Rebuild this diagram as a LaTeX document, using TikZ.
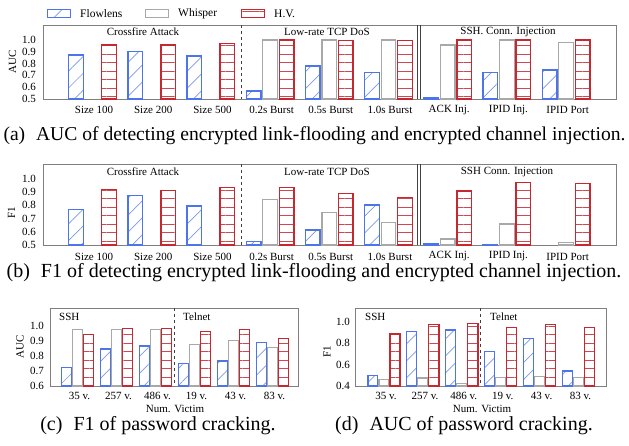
\documentclass[tikz,border=0pt]{standalone}
\usepackage{fontspec}
\setmainfont{Liberation Serif}
\usetikzlibrary{patterns.meta}
\definecolor{flblue}{HTML}{4D74E8}
\definecolor{wsgray}{HTML}{A8A8A8}
\definecolor{hvred}{HTML}{C62830}
\definecolor{boxgray}{HTML}{7F7F7F}

\begin{document}
\begin{tikzpicture}[x=1pt,y=-1pt,
  tick/.style={font=\fontsize{11}{12}\selectfont,inner sep=0pt},
  lgd/.style={font=\fontsize{11.5}{12}\selectfont,inner sep=0pt,anchor=west},
  capt/.style={font=\fontsize{20}{22}\selectfont,inner sep=0pt},
  panel/.style={draw=boxgray,line width=0.9pt},
  split/.style={draw=black!75,line width=0.6pt,dashed},
  fl/.style={draw=flblue,line width=1.3pt,pattern={Lines[angle=45,distance=12pt,line width=0.7pt]},pattern color=flblue!75},
  ws/.style={draw=wsgray,line width=1.3pt},
  hv/.style={draw=hvred,line width=1.3pt,pattern={Lines[angle=0,distance=8.5pt,line width=0.8pt]},pattern color=hvred!85}]
\useasboundingbox (0,0) rectangle (629,445);

% legend
\draw[fl] (47.5,9.5) rectangle (70.5,17.5);
\node[lgd] (lg-fl) at (80,13.5) {Flowlens};
\draw[ws] (145.5,9.5) rectangle (168.5,17.5);
\node[lgd] (lg-ws) at (178,13.5) {Whisper};
\draw[hv] (241.5,9.5) rectangle (264.5,17.5);
\node[lgd] (lg-hv) at (274,13.5) {H.V.};

% panel (a)
\draw[panel] (43,25) rectangle (616,99);
\draw[split] (241,25) -- (241,99);
\draw[black!75,line width=0.7pt] (417.3,25) -- (417.3,99) (420.7,25) -- (420.7,99);
\foreach \v [count=\i] in {0.5,0.6,0.7,0.8,0.9,1.0}
  \node[tick,anchor=east] (a-y\i) at (36,{99-(\v-0.5)*118}) {\v};
\node[tick,rotate=90] (a-lab) at (12.5,62) {AUC};
\node[tick] (a-s1) at (143,32) {Crossfire Attack};
\node[tick] (a-s2) at (327,32) {Low-rate TCP DoS};
\node[tick] (a-s3) at (508,32) {SSH. Conn. Injection};
\foreach \g/\v in {0/0.873,1/0.90,2/0.864,3/0.568,4/0.78,5/0.723,6/0.514,7/0.726,8/0.746}
  \draw[fl] ({68.7+59.2*\g},99) rectangle ({83.3+59.2*\g},{99-(\v-0.5)*118});
\foreach \g/\v in {3/1.0,4/1.0,5/1.0,6/0.958,7/1.0,8/0.98}
  \draw[ws] ({85.2+59.2*\g},99) rectangle ({99.8+59.2*\g},{99-(\v-0.5)*118});
\foreach \g/\v in {0/0.958,1/0.957,2/0.969,3/1.0,4/0.995,5/0.995,6/1.0,7/1.0,8/1.0}
  \draw[hv] ({101.7+59.2*\g},99) rectangle ({116.3+59.2*\g},{99-(\v-0.5)*118});
\foreach \t [count=\g from 0] in {Size 100,Size 200,Size 500,0.2s Burst,0.5s Burst,1.0s Burst,ACK Inj.,IPID Inj.,IPID Port}
  \node[tick] (a-x\g) at ({94+59.2*\g},110) {\t};
\node[capt,font=\fontsize{19.6}{22}\selectfont] (a-cap) at (314.5,136) {(a)\hspace{0.3em} AUC of detecting encrypted link-flooding and encrypted channel injection.};

% panel (b)
\draw[panel] (43,164) rectangle (616,245);
\draw[split] (241,164) -- (241,245);
\draw[black!75,line width=0.7pt] (417.3,164) -- (417.3,245) (420.7,164) -- (420.7,245);
\foreach \v [count=\i] in {0.5,0.6,0.7,0.8,0.9,1.0}
  \node[tick,anchor=east] (b-y\i) at (36,{245-(\v-0.5)*132}) {\v};
\node[tick,rotate=90] (b-lab) at (11.5,213) {F1};
\node[tick] (b-s1) at (143,172) {Crossfire Attack};
\node[tick] (b-s2) at (327,172) {Low-rate TCP DoS};
\node[tick] (b-s3) at (507,172) {SSH Conn. Injection};
\foreach \g/\v in {0/0.770,1/0.877,2/0.795,3/0.525,4/0.614,5/0.803,6/0.513,7/0.503}
  \draw[fl] ({68.7+59.2*\g},245) rectangle ({83.3+59.2*\g},{245-(\v-0.5)*132});
\foreach \g/\v in {3/0.846,4/0.745,5/0.669,6/0.545,7/0.659,8/0.517}
  \draw[ws] ({85.2+59.2*\g},245) rectangle ({99.8+59.2*\g},{245-(\v-0.5)*132});
\foreach \g/\v in {0/0.922,1/0.914,2/0.937,3/0.937,4/0.892,5/0.858,6/0.909,7/0.975,8/0.967}
  \draw[hv] ({101.7+59.2*\g},245) rectangle ({116.3+59.2*\g},{245-(\v-0.5)*132});
\foreach \t [count=\g from 0] in {Size 100,Size 200,Size 500,0.2s Burst,0.5s Burst,1.0s Burst,ACK Inj.,IPID Inj.,IPID Port}
  \node[tick] (b-x\g) at ({94+59.2*\g},256.5) {\t};
\node[capt] (b-cap) at (314,273) {(b)\hspace{0.3em} F1 of detecting encrypted link-flooding and encrypted channel injection.};

% panel (c)
\draw[panel] (50,308) rectangle (298,386);
\draw[split] (174.3,308) -- (174.3,386);
\foreach \v [count=\i] in {0.6,0.7,0.8,0.9,1.0}
  \node[tick,anchor=east] (c-y\i) at (44,{386-(\v-0.6)*150}) {\v};
\node[tick,rotate=90] (c-lab) at (20,347) {AUC};
\node[tick,anchor=west] (c-s1) at (59,317) {SSH};
\node[tick,anchor=west] (c-s2) at (183,317) {Telnet};
\foreach \g/\v in {0/0.725,1/0.847,2/0.867,3/0.751,4/0.767,5/0.891}
  \draw[fl] ({61.6+39*\g},386) rectangle ({71.4+39*\g},{386-(\v-0.6)*150});
\foreach \g/\v in {0/0.978,1/0.978,2/0.978,3/0.878,4/0.902,5/0.855}
  \draw[ws] ({72.6+39*\g},386) rectangle ({82.4+39*\g},{386-(\v-0.6)*150});
\foreach \g/\v in {0/0.945,1/0.982,2/0.985,3/0.962,4/0.978,5/0.915}
  \draw[hv] ({83.6+39*\g},386) rectangle ({93.8+39*\g},{386-(\v-0.6)*150});
\foreach \t [count=\g from 0] in {35 v.,257 v.,486 v.,19 v.,43 v.,83 v.}
  \node[tick] (c-x\g) at ({79.5+39*\g},396) {\t};
\node[tick] (c-num) at (175,409) {Num. Victim};
\node[capt] (c-cap) at (158,426) {(c)\hspace{0.3em} F1 of password cracking.};

% panel (d)
\draw[panel] (355,308) rectangle (606,386);
\draw[split] (480.7,308) -- (480.7,386);
\foreach \v [count=\i] in {0.4,0.6,0.8,1.0}
  \node[tick,anchor=east] (d-y\i) at (350,{386-(\v-0.4)*106.7}) {\v};
\node[tick,rotate=90] (d-lab) at (327,351.5) {F1};
\node[tick,anchor=west] (d-s1) at (365,317) {SSH};
\node[tick,anchor=west] (d-s2) at (490,317) {Telnet};
\foreach \g/\v in {0/0.497,1/0.909,2/0.925,3/0.722,4/0.847,5/0.541}
  \draw[fl] ({367.9+38.9*\g},386) rectangle ({377.7+38.9*\g},{386-(\v-0.4)*106.7});
\foreach \g/\v in {0/0.463,1/0.475,2/0.425,3/0.478,4/0.488,5/0.481}
  \draw[ws] ({378.9+38.9*\g},386) rectangle ({388.7+38.9*\g},{386-(\v-0.4)*106.7});
\foreach \g/\v in {0/0.887,1/0.978,2/0.988,3/0.947,4/0.978,5/0.95}
  \draw[hv] ({389.9+38.9*\g},386) rectangle ({400.1+38.9*\g},{386-(\v-0.4)*106.7});
\foreach \t [count=\g from 0] in {35 v.,257 v.,486 v.,19 v.,43 v.,83 v.}
  \node[tick] (d-x\g) at ({386+38.9*\g},396) {\t};
\node[tick] (d-num) at (482,409) {Num. Victim};
\node[capt] (d-cap) at (464,426) {(d)\hspace{0.3em} AUC of password cracking.};
\end{tikzpicture}
\end{document}
